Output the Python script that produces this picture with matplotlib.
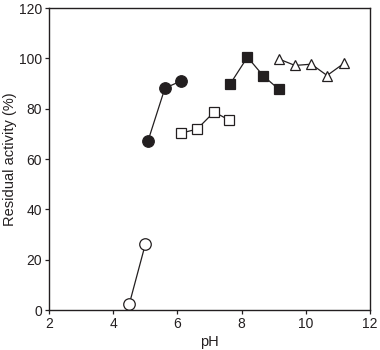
import matplotlib
matplotlib.use("Agg")
import matplotlib.pyplot as plt

plt.rcParams['font.family'] = ['Liberation Sans', 'DejaVu Sans']

# Residual activity (%) after incubation at each pH, one buffer system per series
ph_open_circle = [4.5, 5.0]
act_open_circle = [2.4, 26.2]

ph_filled_circle = [5.08, 5.61, 6.11]
act_filled_circle = [67.1, 88.2, 91.0]

ph_open_square = [6.11, 6.61, 7.14, 7.61]
act_open_square = [70.3, 71.9, 78.7, 75.5]

ph_filled_square = [7.64, 8.18, 8.67, 9.15]
act_filled_square = [89.8, 100.5, 93.1, 87.8]

ph_triangle = [9.17, 9.66, 10.17, 10.66, 11.18]
act_triangle = [99.7, 97.2, 97.7, 93.2, 98.0]

x_ticks = [2, 4, 6, 8, 10, 12]
y_ticks = [0, 20, 40, 60, 80, 100, 120]

fig = plt.figure(figsize=(3.8, 3.5), dpi=100)
ax = fig.add_axes([0.129, 0.114, 0.845, 0.863])

dark = '#231f20'
line_kw = dict(color=dark, lw=0.9, clip_on=False)

ax.plot(ph_open_circle, act_open_circle, marker='o', ms=8.3, mfc='white',
        mec=dark, mew=0.9, **line_kw)
ax.plot(ph_filled_circle, act_filled_circle, marker='o', ms=8.3, mfc=dark,
        mec=dark, mew=0.9, **line_kw)
ax.plot(ph_open_square, act_open_square, marker='s', ms=7.2, mfc='white',
        mec=dark, mew=0.9, **line_kw)
ax.plot(ph_filled_square, act_filled_square, marker='s', ms=7.2, mfc=dark,
        mec=dark, mew=0.9, **line_kw)
ax.plot(ph_triangle, act_triangle, marker='^', ms=7.5, mfc='white',
        mec=dark, mew=0.9, **line_kw)

ax.set_xlim(2, 12)
ax.set_ylim(0, 120)
ax.set_xticks(x_ticks)
ax.set_yticks(y_ticks)
ax.tick_params(direction='out', length=3, width=0.9, colors=dark,
               labelsize=10, pad=2)
for s in ax.spines.values():
    s.set_linewidth(1.0)
    s.set_color(dark)

ax.set_xlabel('pH', fontsize=10.5, color=dark, labelpad=3)
ax.set_ylabel('Residual activity (%)', fontsize=10.5, color=dark, labelpad=1)

fig.savefig('out.png', dpi=100)
